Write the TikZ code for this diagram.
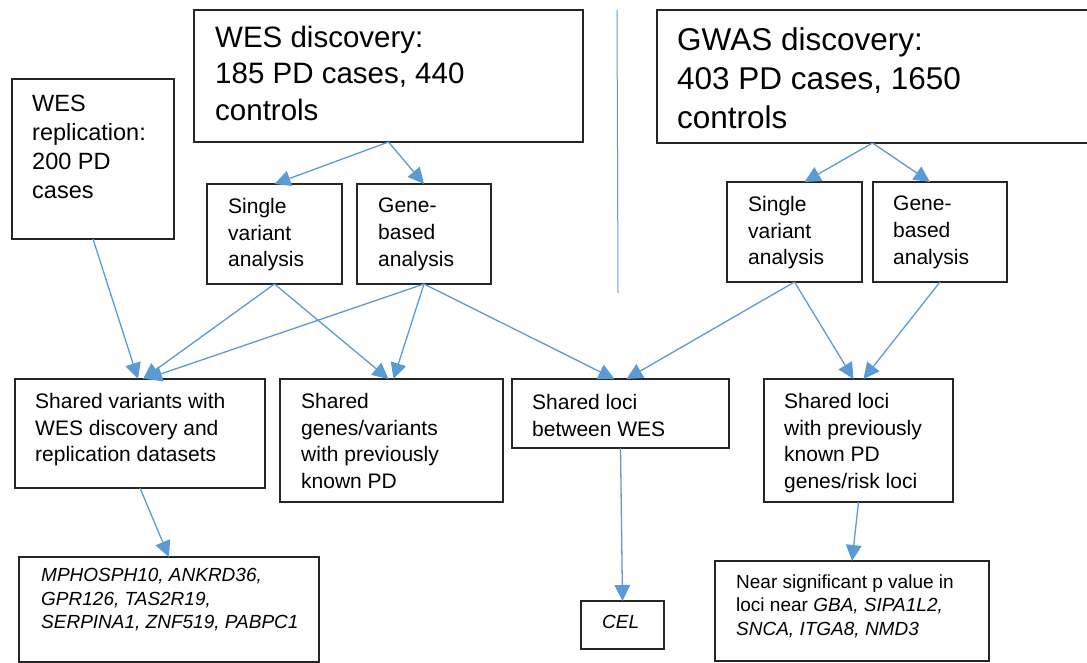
\documentclass[tikz,border=0pt]{standalone}
\usepackage{fontspec}
\setmainfont{Liberation Sans}
\usetikzlibrary{arrows.meta,calc}
\definecolor{lineblue}{HTML}{5B9BD5}
\definecolor{boxgray}{HTML}{262626}
\begin{document}
\begin{tikzpicture}[x=1pt,y=-1pt,
  box/.style={draw=boxgray, line width=1.4pt, anchor=north west, inner sep=0pt, outer sep=0pt},
  txt/.style={anchor=north west, inner sep=0pt, align=left},
  fwes/.style={font=\fontsize{29.5}{36.5}\selectfont},
  fgwas/.style={font=\fontsize{31.5}{39}\selectfont},
  frep/.style={font=\fontsize{23.5}{29}\selectfont},
  fmid/.style={font=\fontsize{21}{26.7}\selectfont},
  fsmall/.style={font=\fontsize{19}{23.5}\selectfont},
  conn/.style={draw=lineblue, line width=1.3pt, -{Triangle[length=16pt,width=16pt,line width=0pt]}},
  ]
\useasboundingbox (0,0) rectangle (1087,663);

% boxes
\node[box, minimum width=162pt, minimum height=160pt] (rep) at (12,79) {};
\node[box, minimum width=389pt, minimum height=132pt] (wesd) at (194,10) {};
\node[box, minimum width=431pt, minimum height=133pt] (gwasd) at (657,10) {};
\node[box, minimum width=135pt, minimum height=100pt] (wsv) at (207,184) {};
\node[box, minimum width=134pt, minimum height=100pt] (wgb) at (357,184) {};
\node[box, minimum width=135pt, minimum height=100pt] (gsv) at (727,182) {};
\node[box, minimum width=134pt, minimum height=100pt] (ggb) at (873,182) {};
\node[box, minimum width=250pt, minimum height=109pt] (sv) at (15,379) {};
\node[box, minimum width=223pt, minimum height=123pt] (sg) at (280,379) {};
\node[box, minimum width=217pt, minimum height=69pt] (sl) at (512,379) {};
\node[box, minimum width=189pt, minimum height=123pt] (slp) at (764,379) {};
\node[box, minimum width=300pt, minimum height=105pt] (mph) at (19,557) {};
\node[box, minimum width=83pt, minimum height=48pt] (cel) at (581,601) {};
\node[box, minimum width=274pt, minimum height=100pt] (near) at (715,561) {};

% texts
\node[txt, fwes] (wesd-t) at (215,25.8) {WES discovery:\\185 PD cases, 440\\controls};
\node[txt, fgwas] (gwasd-t) at (677,27.3) {GWAS discovery:\\403 PD cases, 1650\\controls};
\node[txt, frep] (rep-t) at (32,95.1) {WES\\replication:\\200 PD\\cases};
\node[txt, fmid] (wsv-t) at (228,197.9) {Single\\variant\\analysis};
\node[txt, fmid] (wgb-t) at (378,197.9) {Gene-\\based\\analysis};
\node[txt, fmid] (gsv-t) at (748,196) {Single\\variant\\analysis};
\node[txt, fmid] (ggb-t) at (893,196) {Gene-\\based\\analysis};
\node[txt, fmid] (sv-t) at (35,392.9) {Shared variants with\\WES discovery and\\replication datasets};
\node[txt, fmid] (sg-t) at (301,392.9) {Shared\\genes/variants\\with previously\\known PD};
\node[txt, fmid] (sl-t) at (532,393.9) {Shared loci\\between WES};
\node[txt, fmid] (slp-t) at (784,393) {Shared loci\\with previously\\known PD\\genes/risk loci};
\node[txt, fsmall] (mph-t) at (41,568.3) {\textit{MPHOSPH10, ANKRD36,}\\\textit{GPR126, TAS2R19,}\\\textit{SERPINA1, ZNF519, PABPC1}};
\node[txt, fsmall] (cel-t) at (602,615.3) {\textit{CEL}};
\node[txt, fsmall] (near-t) at (736,574.3) {Near significant p value in\\loci near \textit{GBA, SIPA1L2,}\\\textit{SNCA, ITGA8, NMD3}};

% divider line
\coordinate (vtop) at (617,10);
\coordinate (vbot) at (618,293);
\draw[lineblue, line width=1pt] (vtop) -- (vbot);

% connectors
\draw[conn] (wesd.south) -- (wsv.north);
\draw[conn] (wesd.south) -- (wgb.north);
\draw[conn] (gwasd.south) -- ([xshift=10pt]gsv.north);
\draw[conn] (gwasd.south) -- ([xshift=-10pt]ggb.north);
\draw[conn] (rep.south) -- ([xshift=-2pt]sv.north);
\draw[conn] (wsv.south) -- ([xshift=3pt]sv.north);
\draw[conn] (wgb.south) -- ([xshift=6pt]sv.north);
\draw[conn] (wsv.south) -- ([xshift=-3pt]sg.north);
\draw[conn] (wgb.south) -- ([xshift=2pt]sg.north);
\draw[conn] (wgb.south) -- ([xshift=-6pt]sl.north);
\draw[conn] (gsv.south) -- ([xshift=6pt]sl.north);
\draw[conn] (gsv.south) -- ([xshift=-5pt]slp.north);
\draw[conn] (ggb.south) -- ([xshift=5pt]slp.north);
\draw[conn] (sv.south) -- (mph.north);
\draw[conn] (sl.south) -- (cel.north);
\draw[conn] (slp.south) -- (near.north);
\end{tikzpicture}
\end{document}
